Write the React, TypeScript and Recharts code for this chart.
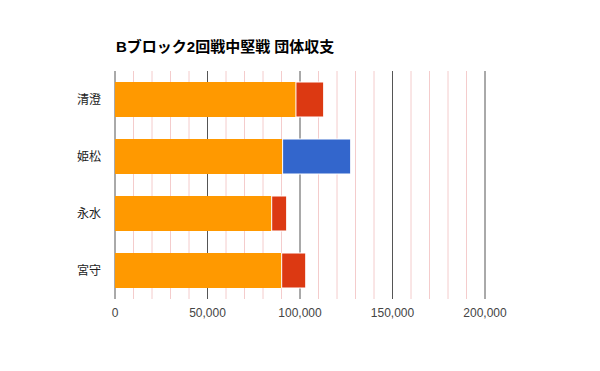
import React from 'react';
import { BarChart, Bar, XAxis, YAxis, CartesianGrid, ReferenceLine } from 'recharts';

const schools = ['清澄', '姫松', '永水', '宮守'];
const baseScores = [97800, 90600, 84700, 90100];
const plusScores = [0, 36800, 0, 0];
const minusScores = [15000, 0, 8100, 13000];
const majorTicks = [0, 50000, 100000, 150000, 200000];
const minorTicks = [
  10000, 20000, 30000, 40000, 60000, 70000, 80000, 90000, 110000, 120000,
  130000, 140000, 160000, 170000, 180000, 190000,
];

const data = schools.map((name, i) => ({
  name,
  base: baseScores[i],
  plus: plusScores[i],
  minus: minusScores[i],
}));

const fmt = (v: number) => v.toLocaleString('en-US');

const App: React.FC = () => {
  return (
    <div style={{ position: 'absolute', left: 0, top: 0, width: 600, height: 371, background: '#fff' }}>
      <div
        style={{
          position: 'absolute',
          left: 116,
          top: 35,
          fontFamily: 'Arial, "Liberation Sans", "Noto Sans CJK JP", sans-serif',
          fontWeight: 700,
          fontSize: 15,
          color: '#000',
          whiteSpace: 'nowrap',
        }}
      >
        Bブロック2回戦中堅戦 団体収支
      </div>
      <BarChart
        width={600}
        height={371}
        data={data}
        layout="vertical"
        margin={{ top: 71, right: 115, bottom: 42, left: 0 }}
        barCategoryGap={11}
      >
        <CartesianGrid horizontal={false} stroke="#555" />
        {/* pink minor lines, kept behind the bars */}
        {minorTicks.map((t) => (
          <ReferenceLine key={t} x={t} stroke="#f4cccc" zIndex={-50} />
        ))}
        <XAxis
          type="number"
          domain={[0, 200000]}
          ticks={majorTicks}
          tickFormatter={fmt}
          height={30}
          axisLine={false}
          tickLine={false}
          tickMargin={3}
          tick={{ fill: '#444', fontSize: 12, fontFamily: 'Arial, "Liberation Sans", sans-serif' }}
        />
        <YAxis
          type="category"
          dataKey="name"
          width={115}
          axisLine={false}
          tickLine={false}
          tickMargin={8}
          tick={{ fill: '#222', fontSize: 12, fontFamily: '"Noto Sans CJK JP", sans-serif' }}
        />
        <Bar dataKey="base" stackId="s" fill="#ff9900" isAnimationActive={false} />
        <Bar dataKey="plus" stackId="s" fill="#3366cc" stroke="#ffffff" strokeWidth={1} isAnimationActive={false} />
        <Bar dataKey="minus" stackId="s" fill="#dc3912" stroke="#ffffff" strokeWidth={1} isAnimationActive={false} />
      </BarChart>
    </div>
  );
};

export default App;
